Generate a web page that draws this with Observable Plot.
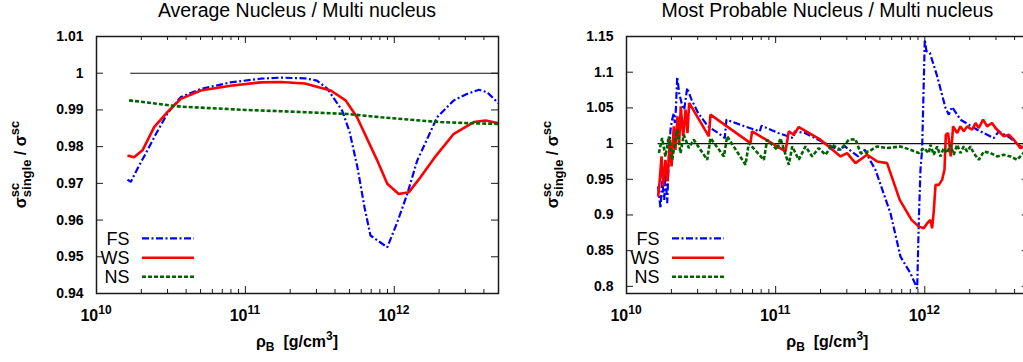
<!DOCTYPE html>
<html>
<head>
<meta charset="utf-8">
<script src="https://cdn.jsdelivr.net/npm/d3@7"></script>
<script src="https://cdn.jsdelivr.net/npm/@observablehq/plot@0.6"></script>
<style>
html, body { margin: 0; padding: 0; background: #fff; }
#wrap { position: relative; width: 1023px; height: 362px; overflow: hidden; background: #fff; }
#wrap svg { position: absolute; top: 0; }
</style>
</head>
<body>
<div id="wrap"></div>
<script>
// ---------- data (x given as log10 of rho_B in g/cm^3) ----------
const seriesNames = ["FS", "WS", "NS"];
const panelTitles = ["Average Nucleus / Multi nucleus", "Most Probable Nucleus / Multi nucleus"];
const xMajor = [1e10, 1e11, 1e12];
const xMajorExponents = ["10", "11", "12"];
const xMinor = [2e10, 3e10, 4e10, 5e10, 6e10, 7e10, 8e10, 9e10,
                2e11, 3e11, 4e11, 5e11, 6e11, 7e11, 8e11, 9e11,
                2e12, 3e12, 4e12];
const yTicksAvg = [0.94, 0.95, 0.96, 0.97, 0.98, 0.99, 1.0, 1.01];
const yTicksMP = [0.8, 0.85, 0.9, 0.95, 1.0, 1.05, 1.1, 1.15];

// Average nucleus panel
const avgLogRhoFS = [10.208, 10.23, 10.275, 10.342, 10.40, 10.476, 10.566, 10.70, 10.90, 11.10, 11.237, 11.40, 11.48, 11.55, 11.65, 11.70, 11.752, 11.80, 11.84, 11.953, 12.02, 12.087, 12.154, 12.288, 12.40, 12.48, 12.568, 12.624, 12.70];
const avgFS       = [0.9710, 0.9704, 0.9740, 0.9790, 0.9835, 0.9890, 0.9935, 0.9957, 0.9975, 0.9985, 0.9988, 0.9986, 0.9980, 0.9958, 0.9898, 0.9840, 0.9745, 0.9635, 0.9558, 0.9526, 0.9594, 0.9671, 0.9762, 0.9880, 0.9926, 0.9942, 0.9955, 0.9948, 0.9918];
const avgLogRhoWS = [10.208, 10.252, 10.309, 10.387, 10.476, 10.566, 10.70, 10.90, 11.10, 11.237, 11.40, 11.573, 11.673, 11.75, 11.886, 11.953, 12.03, 12.098, 12.177, 12.27, 12.40, 12.534, 12.613, 12.70];
const avgWS       = [0.9776, 0.9771, 0.9790, 0.9853, 0.9894, 0.9930, 0.9953, 0.9966, 0.9975, 0.9976, 0.9972, 0.9953, 0.9926, 0.9880, 0.9762, 0.9699, 0.9671, 0.9676, 0.9717, 0.9770, 0.9835, 0.9867, 0.9871, 0.9864];
const avgLogRhoNS = [10.219, 10.566, 11.0, 11.237, 11.685, 11.91, 12.177, 12.31, 12.50, 12.70];
const avgNS       = [0.9926, 0.9909, 0.9900, 0.98965, 0.9889, 0.9880, 0.9871, 0.9867, 0.9864, 0.9862];

// Most probable nucleus panel
const mpLogRhoFS = [10.212, 10.228, 10.239, 10.253, 10.261, 10.273, 10.284, 10.295, 10.306, 10.317, 10.324, 10.331, 10.340, 10.353, 10.369, 10.387, 10.396, 10.407, 10.436, 10.480, 10.547, 10.615, 10.659, 10.670, 10.793, 10.894, 10.905, 11.017, 11.117, 11.128, 11.196, 11.285, 11.374, 11.419, 11.464, 11.508, 11.553, 11.598, 11.631, 11.669, 11.770, 11.837, 11.904, 11.949, 11.960, 11.971, 11.982, 11.993, 12.0, 12.011, 12.034, 12.083, 12.139, 12.161, 12.183, 12.239, 12.351, 12.463, 12.496, 12.574, 12.641, 12.70];
const mpFS       = [0.9399, 0.9095, 0.9492, 0.9212, 0.9586, 0.9165, 0.9820, 1.0194, 1.0335, 1.0428, 1.0288, 1.0475, 1.0934, 1.0709, 1.0569, 1.0475, 1.0615, 1.0779, 1.0615, 1.0428, 1.0241, 1.0148, 1.0077, 1.0335, 1.0241, 1.0171, 1.0250, 1.0148, 1.0077, 1.0171, 1.0148, 1.0054, 0.9960, 0.9913, 0.9960, 0.9890, 0.9820, 0.9913, 0.9773, 0.9633, 0.9024, 0.8416, 0.8182, 0.7971, 0.8931, 0.9633, 0.9913, 1.0850, 1.1458, 1.1294, 1.1271, 1.0943, 1.0499, 1.0405, 1.0513, 1.0335, 1.0194, 1.0077, 1.0171, 1.0077, 0.9960, 0.9937];
const mpLogRhoWS = [10.212, 10.223, 10.235, 10.246, 10.261, 10.275, 10.291, 10.302, 10.317, 10.328, 10.342, 10.353, 10.364, 10.380, 10.396, 10.409, 10.420, 10.552, 10.563, 10.831, 10.842, 11.066, 11.088, 11.122, 11.155, 11.301, 11.435, 11.479, 11.535, 11.613, 11.680, 11.747, 11.832, 11.911, 11.960, 11.993, 12.016, 12.038, 12.049, 12.060, 12.072, 12.094, 12.116, 12.132, 12.141, 12.156, 12.174, 12.190, 12.217, 12.239, 12.261, 12.284, 12.317, 12.340, 12.362, 12.391, 12.418, 12.451, 12.474, 12.507, 12.530, 12.563, 12.597, 12.641, 12.70];
const mpWS       = [0.9258, 0.9492, 0.9820, 0.9399, 0.9773, 0.9469, 1.0054, 0.9680, 1.0241, 0.9913, 1.0381, 1.0007, 1.0522, 1.0101, 1.0475, 1.0148, 1.0569, 1.0101, 1.0405, 1.0007, 1.0171, 0.9890, 1.0171, 1.0124, 1.0232, 1.0054, 0.9820, 0.9867, 0.9726, 0.9843, 0.9750, 0.9726, 0.9212, 0.8931, 0.8837, 0.8814, 0.8884, 0.8931, 0.8814, 0.9048, 0.9422, 0.9422, 0.9492, 0.9633, 1.0124, 1.0148, 0.9820, 1.0241, 1.0148, 1.0241, 1.0171, 1.0241, 1.0194, 1.0288, 1.0218, 1.0335, 1.0241, 1.0288, 1.0218, 1.0148, 1.0101, 1.0124, 1.0054, 0.9937, 0.9984];
const mpLogRhoNS = [10.217, 10.239, 10.261, 10.284, 10.306, 10.340, 10.362, 10.384, 10.418, 10.451, 10.541, 10.563, 10.653, 10.675, 10.798, 10.820, 10.921, 10.943, 11.010, 11.032, 11.088, 11.111, 11.155, 11.200, 11.245, 11.289, 11.334, 11.379, 11.435, 11.491, 11.535, 11.569, 11.625, 11.680, 11.747, 11.837, 11.904, 11.960, 11.993, 12.027, 12.038, 12.060, 12.083, 12.105, 12.127, 12.150, 12.172, 12.194, 12.217, 12.239, 12.261, 12.284, 12.306, 12.328, 12.362, 12.396, 12.440, 12.485, 12.530, 12.574, 12.619, 12.661, 12.70];
const mpNS       = [0.9867, 1.0077, 0.9820, 1.0101, 0.9773, 1.0194, 0.9867, 1.0124, 0.9937, 1.0054, 0.9773, 1.0077, 0.9820, 1.0101, 0.9703, 1.0007, 0.9773, 1.0054, 0.9913, 1.0077, 0.9703, 0.9960, 0.9773, 0.9960, 0.9820, 0.9937, 0.9843, 0.9984, 0.9913, 1.0054, 1.0063, 0.9867, 0.9890, 0.9960, 0.9937, 0.9960, 0.9913, 0.9867, 0.9937, 0.9867, 0.9984, 0.9843, 0.9960, 0.9820, 0.9937, 0.9867, 0.9984, 0.9843, 0.9984, 0.9867, 0.9960, 0.9890, 0.9960, 0.9867, 0.9773, 0.9890, 0.9867, 0.9820, 0.9843, 0.9820, 0.9773, 0.9867, 0.9890];

// ---------- build rows ----------
const rows = (lr, v, s) => lr.map((l, i) => ({rho: Math.pow(10, l), ratio: v[i], series: s}));
const avgRows = [...rows(avgLogRhoFS, avgFS, "FS"), ...rows(avgLogRhoWS, avgWS, "WS"), ...rows(avgLogRhoNS, avgNS, "NS")];
const mpRows = [...rows(mpLogRhoFS, mpFS, "FS"), ...rows(mpLogRhoWS, mpWS, "WS"), ...rows(mpLogRhoNS, mpNS, "NS")];

const FONT = '"Liberation Sans", Arial, Helvetica, sans-serif';
const styles = {
  FS: {stroke: "#0000ff", strokeWidth: 2.2, strokeDasharray: "7,2.5,2,2.5"},
  WS: {stroke: "#ff0000", strokeWidth: 2.6},
  NS: {stroke: "#006400", strokeWidth: 2.6, strokeDasharray: "4,2"}
};
const xMax = Math.pow(10, 12.7);

function panel(cfg) {
  const {title, width, marginLeft, marginRight, yDomain, yTicks, data, refFrom, yLabelX, left} = cfg;
  const H = 362, mt = 36, mb = 69;
  const ph = H - mt - mb, pw = width - marginLeft - marginRight;
  const tickStroke = "#1a1a1a";
  const plot = Plot.plot({
    width, height: H, marginTop: mt, marginBottom: mb, marginLeft, marginRight,
    style: {fontFamily: FONT, background: "transparent", color: "#000"},
    x: {type: "log", domain: [1e10, xMax], axis: null},
    y: {domain: yDomain},
    marks: [
      Plot.ruleY([{y: 1, x1: Math.pow(10, refFrom), x2: xMax}], {y: "y", x1: "x1", x2: "x2", stroke: "#111", strokeWidth: 1.1}),
      ...seriesNames.map(s => Plot.line(data.filter(d => d.series === s), {x: "rho", y: "ratio", ...styles[s], strokeLinecap: "butt", strokeLinejoin: "miter", clip: true})),
      Plot.tickX(xMajor, {x: d => d, insetTop: ph - 7, stroke: tickStroke}),
      Plot.tickX(xMajor, {x: d => d, insetBottom: ph - 7, stroke: tickStroke}),
      Plot.tickX(xMinor, {x: d => d, insetTop: ph - 4, stroke: tickStroke}),
      Plot.tickX(xMinor, {x: d => d, insetBottom: ph - 4, stroke: tickStroke}),
      Plot.tickY(yTicks, {y: d => d, insetRight: pw - 7, stroke: tickStroke}),
      Plot.tickY(yTicks, {y: d => d, insetLeft: pw - 7, stroke: tickStroke}),
      Plot.axisY(yTicks, {anchor: "left", tickSize: 0, tickPadding: 13, label: null,
        tickFormat: d => String(+d.toFixed(2)), fontSize: 14, fontWeight: "bold"}),
      Plot.frame({stroke: tickStroke, strokeWidth: 1.5})
    ]
  });
  plot.style.left = left + "px";
  const svg = d3.select(plot);
  const sx = plot.scale("x");
  const cx = marginLeft + pw / 2;
  const g = svg.append("g").attr("font-family", FONT).attr("fill", "#000");
  // title
  g.append("text").attr("x", cx).attr("y", 17).attr("text-anchor", "middle")
    .attr("font-size", 19.5).text(title);
  // x tick labels 10^n
  xMajor.forEach((v, i) => {
    const t = g.append("text").attr("x", sx.apply(v)).attr("y", 320.5).attr("text-anchor", "middle")
      .attr("font-weight", "bold").attr("font-size", 16);
    t.append("tspan").text("10");
    t.append("tspan").attr("dy", -7).attr("font-size", 12).text(xMajorExponents[i]);
  });
  // x label
  const xl = g.append("text").attr("x", cx).attr("y", 347).attr("text-anchor", "middle")
    .attr("font-weight", "bold").attr("font-size", 16);
  xl.append("tspan").text("ρ");
  xl.append("tspan").attr("dy", 4).attr("font-size", 12).text("B");
  xl.append("tspan").attr("dy", -4).text("\u00a0\u00a0[g/cm");
  xl.append("tspan").attr("dy", -7).attr("font-size", 12).text("3");
  xl.append("tspan").attr("dy", 7).text("]");
  // y label
  const yl = g.append("text").attr("transform", `translate(${yLabelX},${mt + ph / 2}) rotate(-90)`)
    .attr("text-anchor", "middle").attr("font-weight", "bold").attr("font-size", 16);
  yl.append("tspan").text("σ");
  yl.append("tspan").attr("dy", -7).attr("font-size", 13).text("sc");
  yl.append("tspan").attr("dx", -14.5).attr("dy", 12).attr("font-size", 13).text("single");
  yl.append("tspan").attr("dy", -5).text("\u00a0/\u00a0σ");
  yl.append("tspan").attr("dy", -7).attr("font-size", 13).text("sc");
  // legend
  const rowY = [ph + mt - 54.7, ph + mt - 35.3, ph + mt - 16.3];
  seriesNames.forEach((s, i) => {
    g.append("text").attr("x", marginLeft + 33.6).attr("y", rowY[i] + 6.5).attr("text-anchor", "end")
      .attr("font-size", 18).text(s);
    g.append("line").attr("x1", marginLeft + 46).attr("x2", marginLeft + 98)
      .attr("y1", rowY[i]).attr("y2", rowY[i])
      .attr("stroke", styles[s].stroke).attr("stroke-width", styles[s].strokeWidth)
      .attr("stroke-dasharray", styles[s].strokeDasharray || null);
  });
  return plot;
}

const wrap = document.getElementById("wrap");
wrap.appendChild(panel({title: panelTitles[0], width: 512, marginLeft: 96, marginRight: 14,
  yDomain: [0.94, 1.01], yTicks: yTicksAvg, data: avgRows, refFrom: 10.23, yLabelX: 25.5, left: 0}));
wrap.appendChild(panel({title: panelTitles[1], width: 530, marginLeft: 115, marginRight: 12.3,
  yDomain: [0.79, 1.15], yTicks: yTicksMP, data: mpRows, refFrom: 10.212, yLabelX: 46.5, left: 511}));
</script>
</body>
</html>
